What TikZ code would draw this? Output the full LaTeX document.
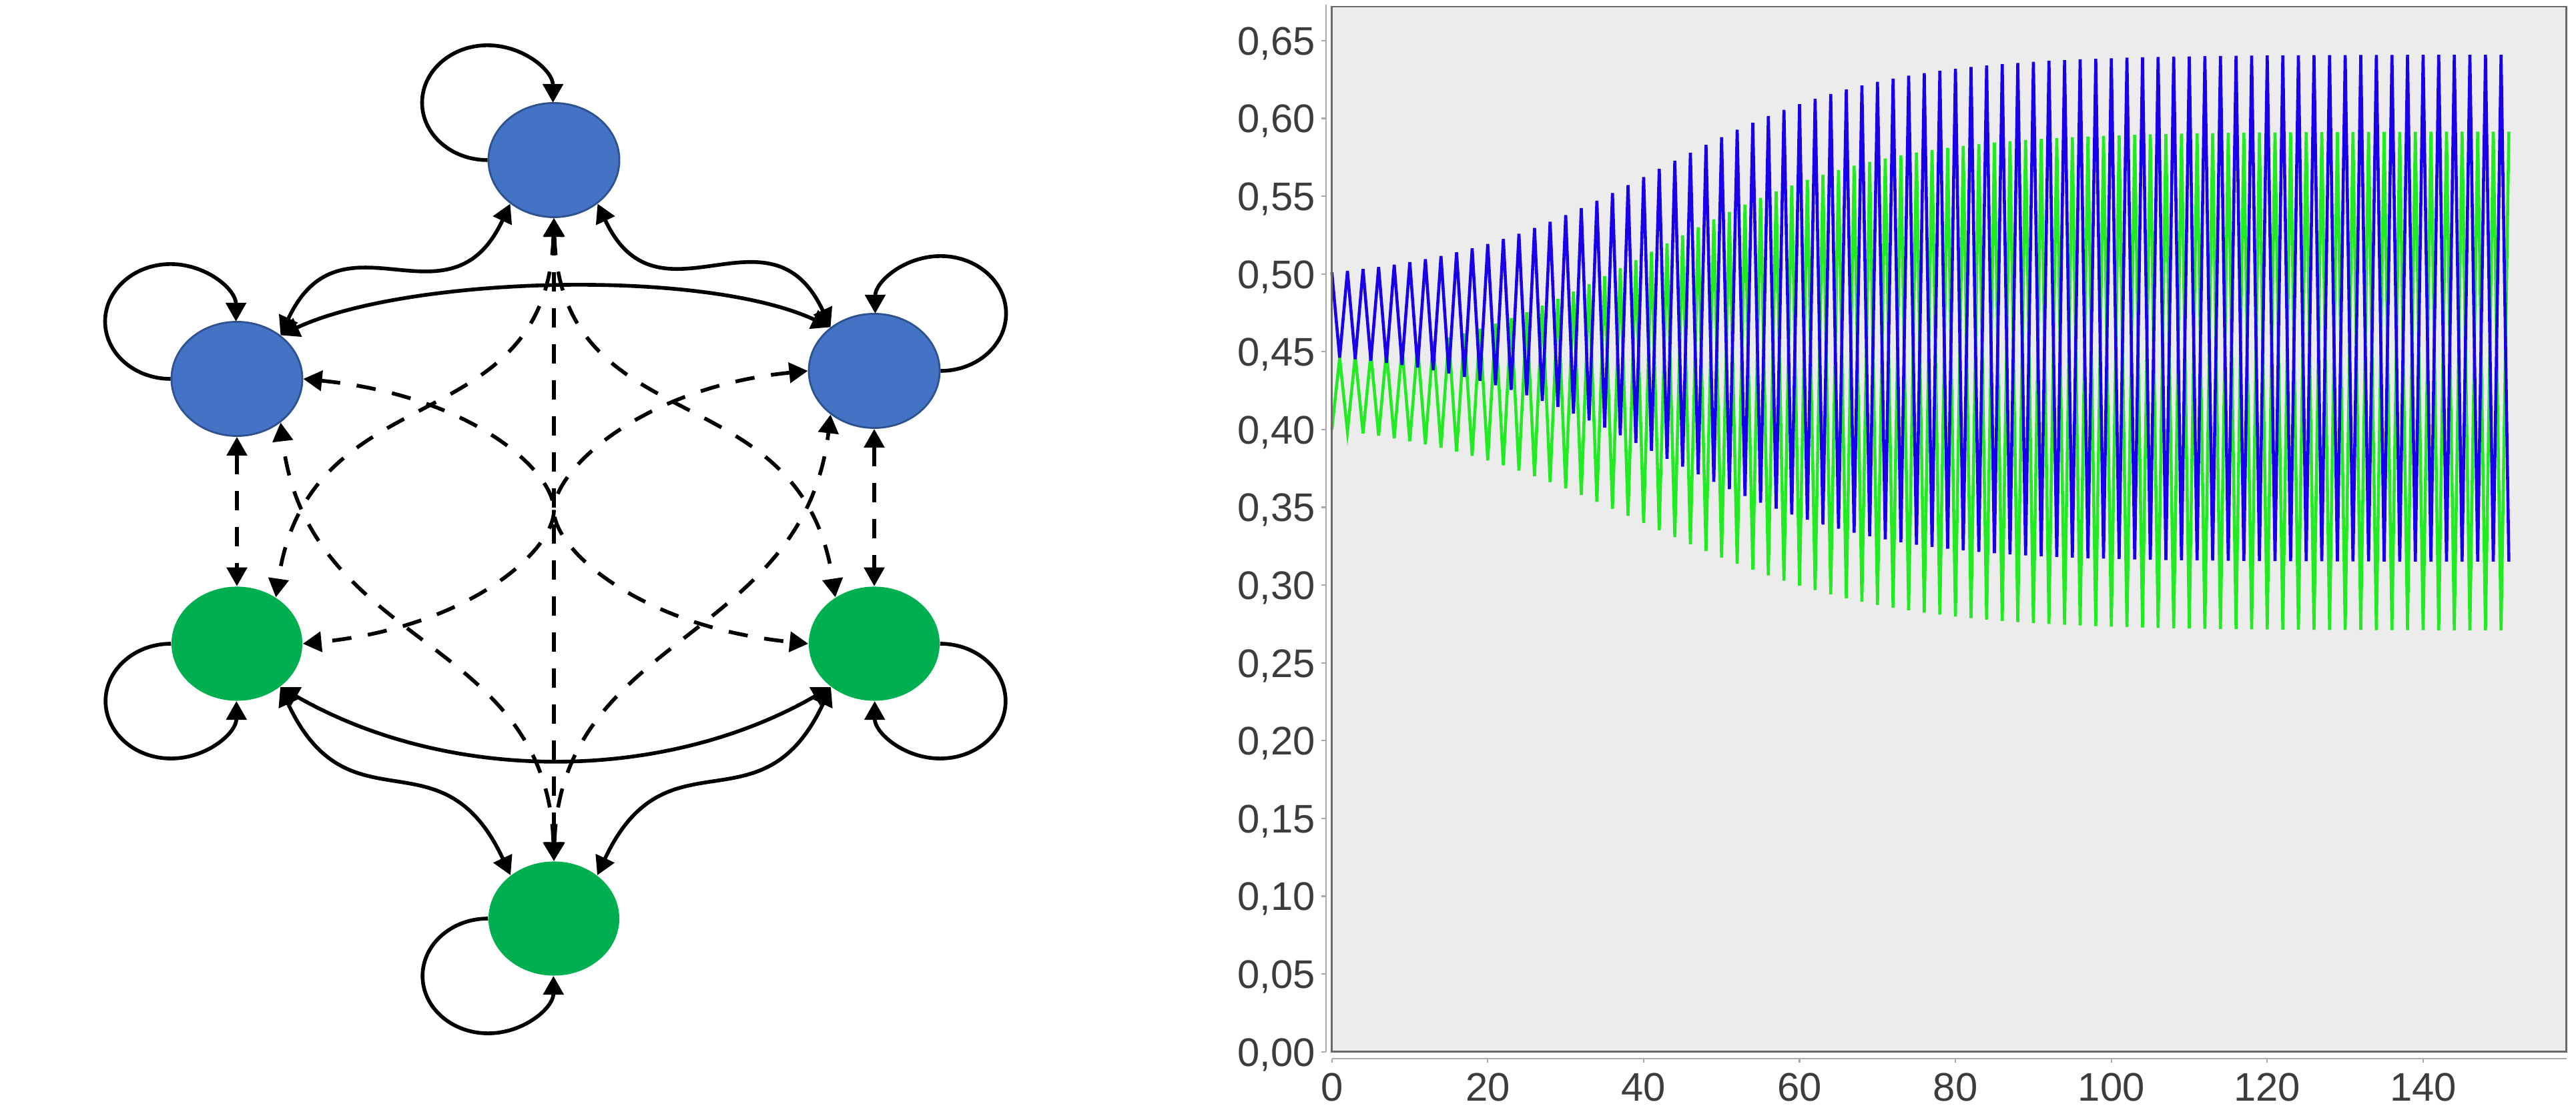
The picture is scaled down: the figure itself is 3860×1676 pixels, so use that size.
\documentclass[tikz,border=0pt]{standalone}
\usepackage{fontspec}
\newfontfamily\plotfont{Liberation Sans}
\usetikzlibrary{shapes.geometric,arrows.meta}
\definecolor{nblue}{RGB}{68,114,196}
\definecolor{nblueborder}{RGB}{47,82,143}
\definecolor{ngreen}{RGB}{0,176,80}
\definecolor{plotbg}{RGB}{236,236,236}
\definecolor{framegray}{RGB}{105,105,105}
\definecolor{axisgray}{RGB}{170,170,170}
\definecolor{labelgray}{RGB}{60,60,60}
\definecolor{serblue}{RGB}{25,0,235}
\definecolor{sergreen}{RGB}{35,235,35}
\tikzset{
  bnode/.style={ellipse, minimum width=1.96cm, minimum height=1.71cm, inner sep=0pt, fill=nblue, draw=nblueborder, line width=0.8pt},
  gnode/.style={ellipse, minimum width=1.96cm, minimum height=1.71cm, inner sep=0pt, fill=ngreen},
  biarrow/.style={line width=1.6pt, black, {Triangle[length=0.28cm,width=0.30cm]}-{Triangle[length=0.28cm,width=0.30cm]}},
  selfloop/.style={line width=1.6pt, black, -{Triangle[length=0.28cm,width=0.30cm]}},
  dasharrow/.style={biarrow, dash pattern=on 0.29cm off 0.25cm},
  blueline/.style={serblue, line width=1.3pt},
  greenline/.style={sergreen, line width=1.3pt},
  ylab/.style={font=\plotfont\fontsize{17}{20}\selectfont, text=labelgray, inner sep=0pt, anchor=base east},
  xlab/.style={font=\plotfont\fontsize{17}{20}\selectfont, text=labelgray, inner sep=0pt, anchor=base},
  declare function={
    lgs(\x,\c,\s)=(1/(1+exp(-(\x-\c)/\s))-1/(1+exp(\c/\s)))/(1-1/(1+exp(\c/\s)));
    bup(\x)=0.501+0.140*lgs(\x,42,14);
    blo(\x)=0.4466-0.1316*lgs(\x,42,13.5);
    gup(\x)=0.4456+0.146*lgs(\x,41,14.5);
    glo(\x)=0.400-0.1292*lgs(\x,40,15);
    bval(\x)=iseven(\x)*bup(\x)+isodd(\x)*blo(\x);
    gval(\x)=iseven(\x)*glo(\x)+isodd(\x)*gup(\x);
  }
}
\begin{document}
\begin{tikzpicture}[x=0.01cm,y=0.01cm]
\useasboundingbox (0,0) rectangle (3860,1676);
\fill[white] (0,0) rectangle (3860,1676);

% ---------- graph ----------
\node[bnode] (T)  at (830,1436) {};
\node[bnode] (UL) at (355,1108) {};
\node[bnode] (UR) at (1310,1120) {};
\node[gnode] (LL) at (355,711) {};
\node[gnode] (LR) at (1310,711) {};
\node[gnode] (B)  at (830,299) {};
\coordinate (C) at (830,911);

% self loops (elliptic arcs from a side point round to the top / bottom point)
\draw[selfloop] (T.west)  arc[start angle=-90, end angle=-360, x radius=0.98cm, y radius=0.86cm];
\draw[selfloop] (UL.west) arc[start angle=-90, end angle=-360, x radius=0.98cm, y radius=0.86cm];
\draw[selfloop] (UR.east) arc[start angle=-90, end angle=180, x radius=0.98cm, y radius=0.86cm];
\draw[selfloop] (LL.west) arc[start angle=90, end angle=360, x radius=0.98cm, y radius=0.86cm];
\draw[selfloop] (LR.east) arc[start angle=90, end angle=-180, x radius=0.98cm, y radius=0.86cm];
\draw[selfloop] (B.west)  arc[start angle=90, end angle=360, x radius=0.98cm, y radius=0.86cm];

% solid connections
\draw[biarrow] (T.-135) to[out=245,in=65,looseness=1.4] (UL.45);
\draw[biarrow] (T.-45) to[out=-65,in=115,looseness=1.4] (UR.135);
\draw[biarrow] (UL.45) to[out=25,in=155,looseness=0.65] (UR.135);
\draw[biarrow] (LL.-45) to[out=-65,in=115,looseness=1.4] (B.135);
\draw[biarrow] (LR.-135) to[out=245,in=65,looseness=1.4] (B.45);
\draw[biarrow] (LL.-45) to[out=-30,in=210,looseness=0.9] (LR.-135);

% dashed connections
\draw[dasharrow] (T.south) -- (B.north);
\draw[dasharrow] (UL.south) -- (LL.north);
\draw[dasharrow] (UR.south) -- (LR.north);
\draw[dasharrow] (T.south) .. controls +(-10,-340) and +(50,340) .. (LL.50);
\draw[dasharrow] (T.south) .. controls +(10,-340) and +(-50,340) .. (LR.130);
\draw[dasharrow] (B.north) .. controls +(-10,340) and +(40,-340) .. (UL.-45);
\draw[dasharrow] (B.north) .. controls +(10,340) and +(-40,-340) .. (UR.-135);
\draw[dasharrow] (UL.east) .. controls +(250,-25) and +(0,60) .. (C) .. controls +(0,-60) and +(-250,25) .. (LR.west);
\draw[dasharrow] (UR.west) .. controls +(-250,-25) and +(0,60) .. (C) .. controls +(0,-60) and +(250,25) .. (LL.east);

% ---------- plot ----------
\fill[plotbg] (1995.7,99.3) rectangle (3845.7,1666);
\draw[greenline] ({1995.7},{99.3+2332*gval(0)}) \foreach \k in {1,...,151}{ -- ({1995.7+11.68*\k},{99.3+2332*gval(\k)}) };
\draw[blueline] ({1995.7},{99.3+2332*bval(0)}) \foreach \k in {1,...,151}{ -- ({1995.7+11.68*\k},{99.3+2332*bval(\k)}) };
\draw[framegray, line width=0.77pt] (1995.7,99.3) rectangle (3845.7,1666);

% y axis
\draw[axisgray, line width=0.6pt] (1986.7,1669) -- (1986.7,99.3);
\foreach \lab [count=\k from 0] in {00,05,10,15,20,25,30,35,40,45,50,55,60,65}{
  \draw[axisgray, line width=0.6pt] (1980,{99.3+116.6*\k}) -- (1986.7,{99.3+116.6*\k});
  \node[ylab] (yl\k) at (1971.5,{99.3+116.6*\k-21.5}) {0,\lab};
}
% x axis
\draw[axisgray, line width=0.6pt] (1995.7,88.7) -- (3845.7,88.7);
\foreach \v in {0,20,...,140}{
  \draw[axisgray, line width=0.6pt] ({1995.7+11.68*\v},88.7) -- ({1995.7+11.68*\v},83);
  \node[xlab] (xl\v) at ({1995.7+11.68*\v},25.3) {\v};
}
\end{tikzpicture}
\end{document}
